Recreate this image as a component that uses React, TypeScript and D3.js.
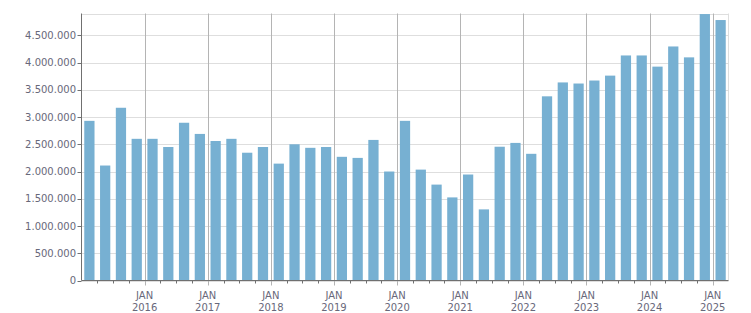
import React from "react";
import * as d3 from "d3";

const quarters: string[] = [
  "2015Q1","2015Q2","2015Q3","2015Q4",
  "2016Q1","2016Q2","2016Q3","2016Q4",
  "2017Q1","2017Q2","2017Q3","2017Q4",
  "2018Q1","2018Q2","2018Q3","2018Q4",
  "2019Q1","2019Q2","2019Q3","2019Q4",
  "2020Q1","2020Q2","2020Q3","2020Q4",
  "2021Q1","2021Q2","2021Q3","2021Q4",
  "2022Q1","2022Q2","2022Q3","2022Q4",
  "2023Q1","2023Q2","2023Q3","2023Q4",
  "2024Q1","2024Q2","2024Q3","2024Q4",
  "2025Q1",
];

const values: number[] = [
  2930000, 2110000, 3170000, 2600000,
  2600000, 2450000, 2895000, 2690000,
  2560000, 2600000, 2345000, 2450000,
  2145000, 2500000, 2435000, 2450000,
  2270000, 2250000, 2580000, 2000000,
  2930000, 2035000, 1760000, 1525000,
  1945000, 1305000, 2455000, 2525000,
  2325000, 3380000, 3635000, 3615000,
  3670000, 3760000, 4130000, 4130000,
  3925000, 4295000, 4095000, 4890000,
  4780000,
];

const yTicks: number[] = [0, 500000, 1000000, 1500000, 2000000, 2500000, 3000000, 3500000, 4000000, 4500000];
const yMax = 4900000;

const W = 751;
const H = 313;
const left = 81.5;
const right = 728.5;
const top = 13.5;
const bottom = 280.5;

const fmt = (v: number) => d3.format(",")(v).replace(/,/g, ".");

export default function App() {
  const x = d3.scaleBand<string>().domain(quarters).range([left, right]).paddingInner(0.35).paddingOuter(0.175);
  const step = x.step();
  const bandStart = (q: string) => (x(q) as number) - step * x.paddingOuter() + 0 ;
  // quarter boundary positions
  const boundary = (i: number) => left + i * ((right - left) / quarters.length);
  const y = d3.scaleLinear().domain([0, yMax]).range([bottom, top]);

  const font = "'DejaVu Sans', Verdana, sans-serif";
  const textColor = "#68687a";

  return (
    <svg width={W} height={H} style={{ position: "absolute", left: 0, top: 0, background: "#fff" }}>
      {/* horizontal grid */}
      {yTicks.concat([yMax]).map((t) => (
        <line key={"g" + t} x1={left} x2={right} y1={Math.round(y(t)) + 0.5} y2={Math.round(y(t)) + 0.5} stroke="#dedede" strokeWidth={1} />
      ))}
      {/* right border */}
      <line x1={right} x2={right} y1={top} y2={bottom} stroke="#dedede" strokeWidth={1} />
      {/* vertical JAN grid */}
      {quarters.map((q, i) =>
        i > 0 && q.endsWith("Q1") ? (
          <line key={"v" + q} x1={Math.round(boundary(i)) + 0.5} x2={Math.round(boundary(i)) + 0.5} y1={top} y2={bottom + 5} stroke="#b4b4b4" strokeWidth={1} />
        ) : null
      )}
      {/* bars */}
      {quarters.map((q, i) => (
        <rect key={"b" + q} x={x(q) as number} width={x.bandwidth()} y={y(values[i])} height={bottom - y(values[i])} fill="#77b0d2" />
      ))}
      {/* minor quarter ticks */}
      {quarters.map((q, i) =>
        i > 0 && !q.endsWith("Q1") ? (
          <line key={"t" + q} x1={Math.round(boundary(i)) + 0.5} x2={Math.round(boundary(i)) + 0.5} y1={bottom} y2={bottom + 3} stroke="#707070" strokeWidth={1} />
        ) : null
      )}
      {/* axes */}
      <line x1={left} x2={left} y1={top} y2={bottom} stroke="#707070" strokeWidth={1} />
      <line x1={left} x2={right} y1={bottom} y2={bottom} stroke="#707070" strokeWidth={1} />
      {/* y ticks and labels */}
      {yTicks.map((t) => (
        <g key={"y" + t}>
          <line x1={left - 4} x2={left} y1={Math.round(y(t)) + 0.5} y2={Math.round(y(t)) + 0.5} stroke="#707070" strokeWidth={1} />
          <text x={left - 5.5} y={y(t)} dy="0.36em" textAnchor="end" fontFamily={font} fontSize={10} fill={textColor}>
            {fmt(t)}
          </text>
        </g>
      ))}
      {/* x labels */}
      {quarters.map((q, i) =>
        i > 0 && q.endsWith("Q1") ? (
          <text key={"xl" + q} x={boundary(i)} y={298.5} textAnchor="middle" fontFamily={font} fontSize={10} fill={textColor}>
            <tspan x={boundary(i)}>JAN</tspan>
            <tspan x={boundary(i)} dy={12}>{q.slice(0, 4)}</tspan>
          </text>
        ) : null
      )}
    </svg>
  );
}
